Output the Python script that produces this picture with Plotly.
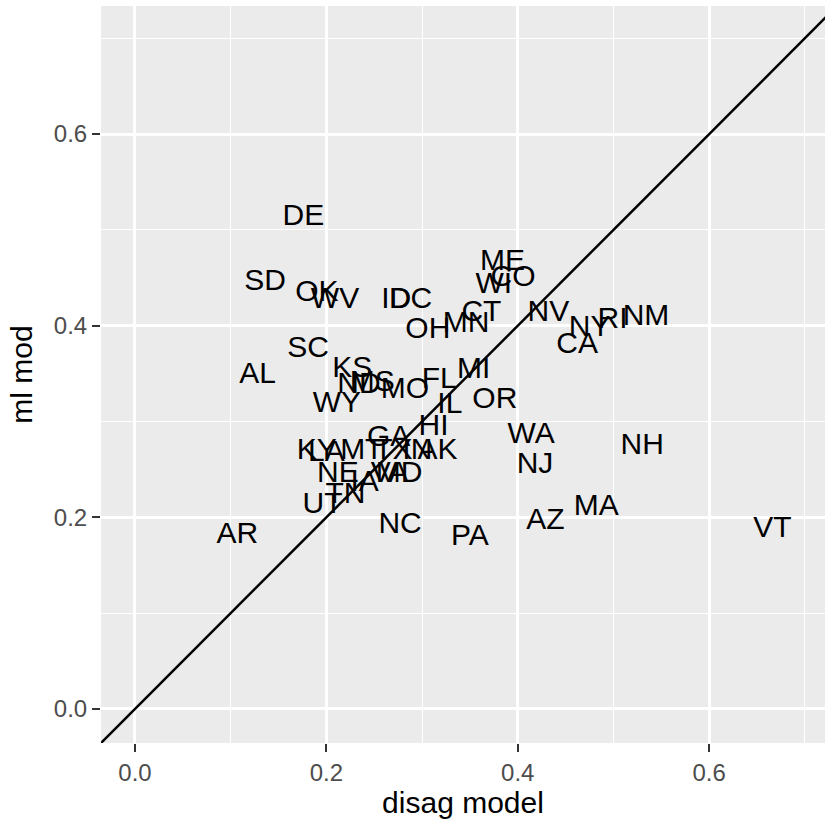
import plotly.graph_objects as go

states = ["DE","SD","OK","WV","ID","DC","OH","MN","CT","ME","WI","CO","NV","NY","RI","NM","CA",
          "SC","AL","KS","ND","MS","WY","MO","FL","MI","IL","OR","HI","GA","WA","NH","NJ",
          "KY","LA","MT","TX","IN","AK","NE","IA","VA","MD","UT","TN","NC","PA","AZ","MA","AR","VT"]
disag_model = [0.176,0.136,0.190,0.209,0.273,0.288,0.306,0.346,0.362,0.384,0.375,0.395,0.432,0.475,0.499,0.534,0.462,
               0.181,0.128,0.227,0.234,0.248,0.211,0.282,0.318,0.354,0.329,0.376,0.312,0.265,0.414,0.530,0.418,
               0.190,0.200,0.237,0.270,0.295,0.316,0.212,0.240,0.266,0.276,0.196,0.220,0.277,0.350,0.429,0.482,0.107,0.666]
ml_mod = [0.513,0.445,0.434,0.426,0.426,0.426,0.395,0.401,0.413,0.466,0.442,0.449,0.413,0.397,0.405,0.409,0.379,
          0.375,0.348,0.354,0.338,0.340,0.318,0.332,0.343,0.353,0.317,0.322,0.294,0.282,0.285,0.274,0.254,
          0.269,0.267,0.269,0.269,0.269,0.269,0.245,0.235,0.245,0.245,0.212,0.223,0.192,0.179,0.196,0.210,0.181,0.187]

abline_intercept = 0.0
abline_slope = 1.0
x_range = [-0.0355, 0.721]
y_range = [-0.0355, 0.7336]
tick_vals = [0.0, 0.2, 0.4, 0.6]
tick_text = ["0.0", "0.2", "0.4", "0.6"]

FONT = "Liberation Sans, Arial, Helvetica, sans-serif"

fig = go.Figure()
fig.add_trace(go.Scatter(
    x=disag_model, y=ml_mod, text=states, mode="text",
    textposition="middle center",
    textfont=dict(family=FONT, size=30, color="black"),
    hoverinfo="text", showlegend=False))

lx = [-1.0, 2.0]
fig.add_trace(go.Scatter(
    x=lx, y=[abline_intercept + abline_slope * v for v in lx], mode="lines",
    line=dict(color="black", width=2.5), showlegend=False, hoverinfo="skip"))

axis_common = dict(
    showgrid=True, gridcolor="white", gridwidth=2.5, zeroline=False,
    tickvals=tick_vals, ticktext=tick_text,
    ticks="outside", ticklen=8, tickwidth=2, tickcolor="#333333",
    tickfont=dict(family=FONT, size=24, color="#4D4D4D"),
    showline=False,
    minor=dict(dtick=0.1, tick0=0.1, showgrid=True, gridcolor="white", gridwidth=1.2, ticks=""),
)

fig.update_layout(
    width=825, height=823,
    margin=dict(l=101, r=0, t=6, b=80),
    paper_bgcolor="white", plot_bgcolor="#EBEBEB",
    xaxis=dict(range=x_range, title=dict(text="disag model", font=dict(family=FONT, size=30, color="black"), standoff=5), **axis_common),
    yaxis=dict(range=y_range, title=dict(text="ml mod", font=dict(family=FONT, size=30, color="black"), standoff=12), **axis_common),
    showlegend=False,
)

fig.write_html("out.html")
